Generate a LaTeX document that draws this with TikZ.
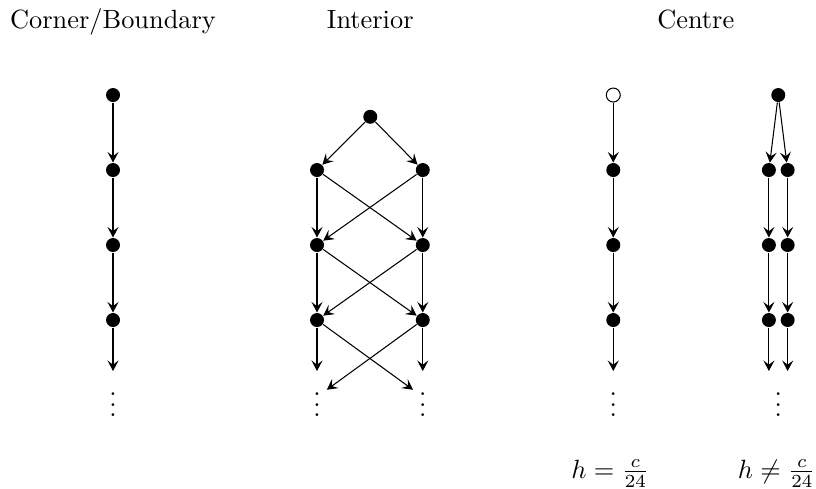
\documentclass[tikz,border=0pt]{standalone}
\usepackage{amsmath,amssymb}
\usetikzlibrary{arrows.meta}
\tikzset{
  dot/.style={circle, fill=black, inner sep=0pt, minimum size=5.3pt},
  hollowdot/.style={circle, draw=black, fill=white, inner sep=0pt, minimum size=5.3pt},
  more/.style={anchor=base},
  >={Stealth[length=4pt, width=4.2pt, inset=1.6pt]}
}

\begin{document}
\begin{tikzpicture}
\useasboundingbox (-1.507,1.267) rectangle (9.373,-5.24);
% titles
\node[more] (tcorner) at (0,0.893) {Corner/Boundary};
\node[more] (tinterior) at (3.43,0.893) {Interior};
\node[more] (tcentre) at (7.77,0.893) {Centre};
% corner / boundary chain
\foreach \i in {0,...,3} {
\node[dot] (c\i) at (0,-\i) {};
}
\coordinate (cend) at (0,-3.68);
\node[more] (cdots) at (0,-4.29) {$\vdots$};
\foreach \i [count=\j] in {0,1,2} {
\draw[->] (c\i) -- (c\j);
}
\draw[->] (c3) -- (cend);
% interior lattice
\node[dot] (i0) at (3.43,-0.29) {};
\foreach \i in {1,2,3} {
\node[dot] (l\i) at (2.72,-\i) {};
\node[dot] (r\i) at (4.13,-\i) {};
}
\draw[->] (i0) -- (l1);
\draw[->] (i0) -- (r1);
\foreach \i [count=\j from 2] in {1,2} {
\draw[->] (l\i) -- (l\j);
\draw[->] (r\i) -- (r\j);
\draw[->] (l\i) -- (r\j);
\draw[->] (r\i) -- (l\j);
}
\coordinate (lend) at (2.72,-3.68);
\coordinate (rend) at (4.13,-3.68);
\coordinate (lx) at (2.85,-3.93);
\coordinate (rx) at (4.0,-3.93);
\draw[->] (l3) -- (lend);
\draw[->] (r3) -- (rend);
\draw[->] (l3) -- (rx);
\draw[->] (r3) -- (lx);
\node[more] (ldots) at (2.72,-4.29) {$\vdots$};
\node[more] (rdots) at (4.13,-4.29) {$\vdots$};
% centre, h = c/24
\node[hollowdot] (m0) at (6.67,0) {};
\foreach \i in {1,2,3} {
\node[dot] (m\i) at (6.67,-\i) {};
}
\foreach \i [count=\j] in {0,1,2} {
\draw[->] (m\i) -- (m\j);
}
\coordinate (mend) at (6.67,-3.68);
\draw[->] (m3) -- (mend);
\node[more] (mdots) at (6.67,-4.29) {$\vdots$};
% centre, h != c/24
\node[dot] (n0) at (8.87,0) {};
\foreach \i in {1,2,3} {
\node[dot] (a\i) at (8.745,-\i) {};
\node[dot] (b\i) at (8.995,-\i) {};
}
\draw[->] (n0) -- (a1);
\draw[->] (n0) -- (b1);
\foreach \i [count=\j from 2] in {1,2} {
\draw[->] (a\i) -- (a\j);
\draw[->] (b\i) -- (b\j);
}
\coordinate (aend) at (8.745,-3.68);
\coordinate (bend) at (8.995,-3.68);
\draw[->] (a3) -- (aend);
\draw[->] (b3) -- (bend);
\node[more] (ndots) at (8.87,-4.29) {$\vdots$};
% labels
\node[more] (heq) at (6.63,-5.107) {$h = \frac{c}{24}$};
\node[more] (hneq) at (8.85,-5.107) {$h \neq \frac{c}{24}$};
\end{tikzpicture}
\end{document}
